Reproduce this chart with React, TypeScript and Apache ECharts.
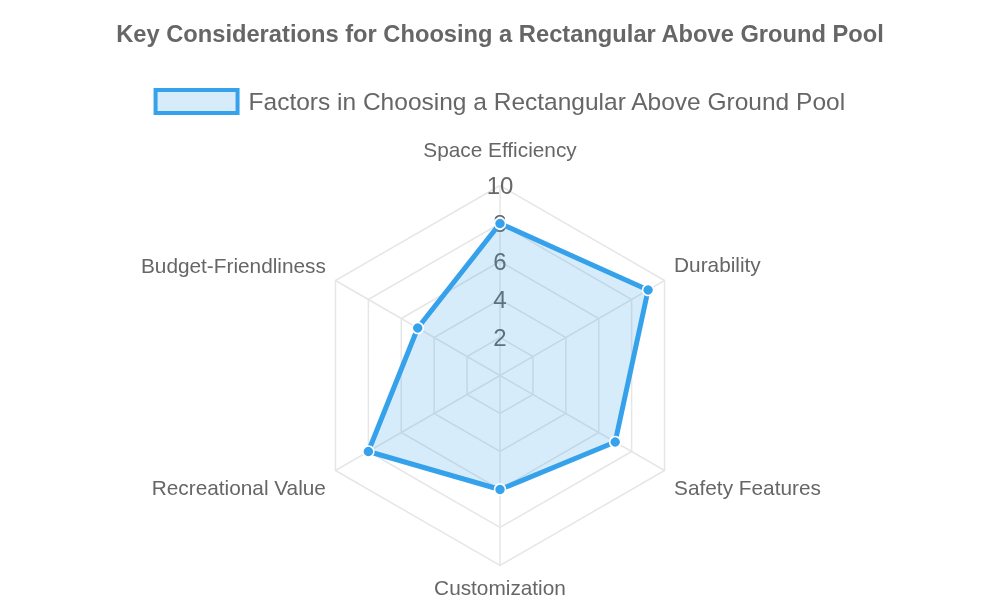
import React, { useEffect, useRef } from "react";
import * as echarts from "echarts";

const title = "Key Considerations for Choosing a Rectangular Above Ground Pool";
const seriesName = "Factors in Choosing a Rectangular Above Ground Pool";
// clockwise order as seen in the chart
const categories = [
  "Space Efficiency",
  "Durability",
  "Safety Features",
  "Customization",
  "Recreational Value",
  "Budget-Friendliness",
];
const values = [8, 9, 7, 6, 8, 5];
const maxValue = 10;
// placement style key for each category name (clockwise from top)
const nameKeys = ["t", "ur", "lr", "b", "ll", "ul"];

export default function App() {
  const ref = useRef<HTMLDivElement>(null);
  useEffect(() => {
    if (!ref.current) return;
    const chart = echarts.init(ref.current, null, { renderer: "svg" });
    // ECharts lays indicators counter-clockwise; reverse the tail to get clockwise order
    const order = [0, ...categories.slice(1).map((_, i) => categories.length - 1 - i)];
    const indicator = order.map((idx, k) => ({
      name: categories[idx],
      max: maxValue,
      min: 0,
      axisLabel: k === 0 ? { show: true } : undefined,
    }));
    const data = order.map((idx) => values[idx]);
    const font = "'Liberation Sans', Arial, Helvetica, sans-serif";
    const nameStyle = { color: "#666", fontSize: 20.8, fontFamily: font };
    chart.setOption({
      animation: false,
      textStyle: { fontFamily: font },
      title: {
        text: title,
        left: "center",
        top: 17,
        textStyle: { fontSize: 23.7, fontWeight: "bold", color: "#666", fontFamily: font },
      },
      legend: {
        top: 83,
        left: "center",
        itemWidth: 82,
        itemHeight: 23,
        icon: "rect",
        itemStyle: {
          color: "rgba(54,162,235,0.2)",
          borderColor: "#36A2EB",
          borderWidth: 4,
        },
        textStyle: { fontSize: 24.5, color: "#666", fontFamily: font, padding: [0, 0, 0, 6] },
        data: [seriesName],
      },
      radar: {
        center: [500, 375.5],
        radius: 190,
        startAngle: 90,
        splitNumber: 5,
        shape: "polygon",
        axisName: {
          ...nameStyle,
          formatter: (name: string) => `{${nameKeys[categories.indexOf(name)]}|${name}}`,
          rich: {
            t: { ...nameStyle, padding: [0, 0, 15, 0] },
            ur: { ...nameStyle, padding: [0, 0, 21, 0] },
            lr: { ...nameStyle, padding: [23, 0, 0, 0] },
            b: { ...nameStyle, padding: [0, 0, 4, 0] },
            ll: { ...nameStyle, padding: [23, 0, 0, 0] },
            ul: { ...nameStyle, padding: [0, 0, 20, 0] },
          },
        },
        nameGap: 11,
        axisLine: { lineStyle: { color: "#e6e6e6", width: 1.5 } },
        splitLine: { lineStyle: { color: "#e6e6e6", width: 1.5 } },
        splitArea: { show: false },
        axisTick: { show: false },
        axisLabel: {
          show: false,
          color: "#666",
          fontSize: 24,
          fontFamily: font,
          margin: 0,
          align: "center",
          verticalAlign: "middle",
          showMinLabel: false,
        },
        indicator,
      },
      series: [
        {
          type: "radar",
          name: seriesName,
          symbol: "circle",
          symbolSize: 11,
          lineStyle: { color: "#36A2EB", width: 5 },
          itemStyle: { color: "#36A2EB", borderColor: "#fff", borderWidth: 1.5 },
          areaStyle: { color: "rgba(54,162,235,0.2)", opacity: 1 },
          data: [{ value: data, name: seriesName }],
        },
      ],
    });
    return () => chart.dispose();
  }, []);
  return (
    <div
      ref={ref}
      style={{ position: "fixed", left: 0, top: 0, width: 1000, height: 600 }}
    />
  );
}
